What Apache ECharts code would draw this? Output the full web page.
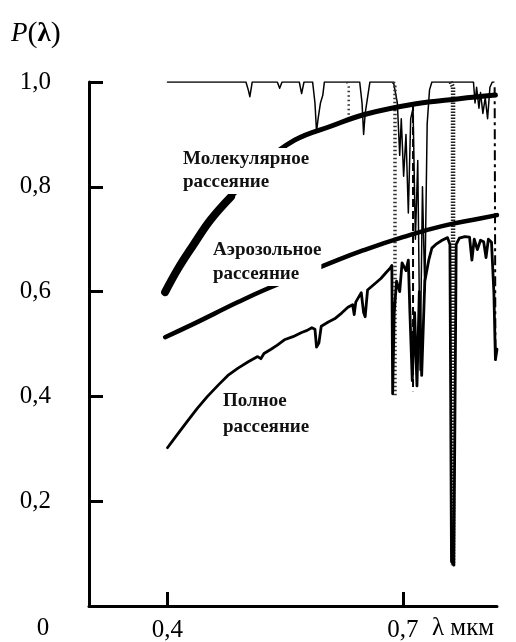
<!DOCTYPE html>
<html>
<head>
<meta charset="utf-8">
<script src="https://cdn.jsdelivr.net/npm/echarts@6/dist/echarts.min.js"></script>
<style>
  html, body { margin: 0; padding: 0; background: #fff; }
  #main { width: 516px; height: 642px; }
</style>
</head>
<body>
<div id="main"></div>
<script>
// молекулярное рассеяние (толстая гладкая кривая)
var molecular = [[0.397,0.599],[0.414,0.645],[0.433,0.689],[0.455,0.737],[0.481,0.781],[0.519,0.840],
  [0.562,0.889],[0.609,0.916],[0.651,0.938],[0.715,0.958],[0.772,0.968],[0.818,0.975]];
// аэрозольное рассеяние
var aerosol = [[0.397,0.513],[0.430,0.536],[0.460,0.558],[0.490,0.580],[0.522,0.602],[0.560,0.626],
  [0.600,0.650],[0.650,0.679],[0.700,0.704],[0.750,0.725],[0.800,0.740],[0.820,0.746]];
// полное рассеяние (с полосами поглощения)
var total = [[0.400,0.302],[0.412,0.326],[0.425,0.352],[0.438,0.377],[0.451,0.400],[0.465,0.422],
  [0.477,0.440],[0.490,0.454],[0.503,0.466],[0.515,0.476],[0.519,0.472],[0.523,0.482],[0.532,0.490],
  [0.540,0.498],[0.549,0.508],[0.560,0.514],[0.571,0.522],[0.578,0.526],[0.584,0.531],[0.588,0.528],
  [0.590,0.494],[0.593,0.502],[0.596,0.534],[0.605,0.542],[0.613,0.548],[0.622,0.559],[0.630,0.570],
  [0.636,0.575],[0.638,0.556],[0.640,0.580],[0.647,0.598],[0.650,0.560],[0.652,0.552],[0.655,0.603],
  [0.665,0.616],[0.672,0.625],[0.679,0.637],[0.684,0.645],[0.686,0.650],[0.687,0.405],[0.689,0.560],
  [0.692,0.620],[0.696,0.600],[0.699,0.655],[0.704,0.640],[0.707,0.660],[0.709,0.560],[0.712,0.430],
  [0.715,0.560],[0.718,0.420],[0.721,0.600],[0.724,0.440],[0.728,0.620],[0.733,0.660],[0.737,0.683],
  [0.742,0.690],[0.750,0.698],[0.757,0.703],[0.760,0.690],[0.762,0.085],[0.765,0.078],[0.768,0.690],
  [0.772,0.702],[0.779,0.705],[0.785,0.704],[0.788,0.660],[0.791,0.700],[0.795,0.680],[0.799,0.698],
  [0.803,0.695],[0.806,0.665],[0.809,0.700],[0.813,0.694],[0.816,0.600],[0.818,0.470],[0.820,0.490]];
// поглощение газами (тонкая линия у 1,0)
var gas = [[0.400,1.0],[0.500,1.0],[0.503,0.985],[0.505,0.972],[0.507,0.990],[0.508,1.0],[0.540,1.0],
  [0.543,0.988],[0.546,1.0],[0.568,1.0],[0.571,0.978],[0.574,1.0],[0.585,1.0],[0.588,0.960],
  [0.590,0.905],[0.592,0.930],[0.595,0.960],[0.598,0.975],[0.600,1.0],[0.645,1.0],[0.648,0.960],
  [0.650,0.900],[0.652,0.940],[0.655,0.970],[0.658,1.0],[0.688,1.0],[0.693,0.960],[0.696,0.860],
  [0.698,0.930],[0.701,0.820],[0.704,0.900],[0.707,0.750],[0.710,0.930],[0.713,0.950],[0.716,0.700],
  [0.719,0.850],[0.722,0.450],[0.725,0.800],[0.728,0.600],[0.731,0.920],[0.734,0.985],[0.737,1.0],
  [0.790,1.0],[0.792,0.960],[0.794,0.990],[0.797,0.950],[0.799,0.980],[0.802,0.940],[0.805,0.970],
  [0.808,0.930],[0.811,0.990],[0.814,1.0],[0.816,1.0]];
// пунктирные полосы
var dotBand1 = [[0.629,1.0],[0.631,0.99],[0.631,0.937]];
var dotBand2 = [[0.688,1.0],[0.690,0.99],[0.690,0.400]];
var dotBand3 = [[0.761,1.0],[0.764,0.99],[0.764,0.078]];
var dashBand1 = [[0.713,0.960],[0.713,0.410]];
var dashBand2 = [[0.817,0.990],[0.818,0.470]];

var xTicks = [0.4, 0.7];
var yMin = 0, yMax = 1.0, yStep = 0.2;

var chart = echarts.init(document.getElementById('main'));
var serif = '"Liberation Serif", "DejaVu Serif", serif';

function line(data, width, type, smooth, cap, color) {
  return {
    type: 'line', data: data, symbol: 'none', smooth: smooth || false,
    lineStyle: { color: color || '#000', width: width, type: type || 'solid', cap: cap || 'round', join: 'round' },
    animation: false, silent: true
  };
}

var option = {
  backgroundColor: '#fff',
  grid: { left: 89, right: 19, top: 82, bottom: 36, containLabel: false, outerBoundsMode: 'none' },
  xAxis: {
    type: 'value', min: 0.3, max: 0.82,
    splitLine: { show: false },
    axisLine: { lineStyle: { color: '#000', width: 3 } },
    axisTick: { inside: true, length: 14, customValues: xTicks, lineStyle: { color: '#000', width: 3 } },
    axisLabel: {
      customValues: xTicks, margin: 12, color: '#000', fontFamily: serif, fontSize: 25,
      formatter: function (v) { return v.toFixed(1).replace('.', ','); }
    }
  },
  yAxis: {
    type: 'value', min: yMin, max: yMax, interval: yStep,
    splitLine: { show: false },
    axisLine: { lineStyle: { color: '#000', width: 3 } },
    axisTick: { inside: true, length: 14, lineStyle: { color: '#000', width: 3 } },
    axisLabel: {
      showMinLabel: false, margin: 38, color: '#000', fontFamily: serif, fontSize: 25,
      formatter: function (v) { return v.toFixed(1).replace('.', ','); }
    }
  },
  graphic: [
    { type: 'text', left: 11, top: 19, style: {
        text: '{i|P}{n|(}{b|λ}{n|)}', fill: '#000',
        rich: {
          i: { fontFamily: serif, fontStyle: 'italic', fontSize: 27 },
          n: { fontFamily: serif, fontSize: 30 },
          b: { fontFamily: serif, fontWeight: 'bold', fontSize: 27 }
        } } },
    { type: 'text', x: 43, y: 628, style: { text: '0', fill: '#000', font: '25px ' + serif, align: 'center', verticalAlign: 'middle' } },
    { type: 'text', x: 432, y: 628, style: { text: 'λ мкм', fill: '#000', font: '25px ' + serif, verticalAlign: 'middle' } },
    { type: 'text', x: 183, y: 148, z: 100, style: { text: 'Молекулярное\nрассеяние', fill: '#111',
        font: 'bold 19px ' + serif, lineHeight: 23, backgroundColor: '#fff' } },
    { type: 'text', x: 213, y: 238, z: 100, style: { text: 'Аэрозольное\nрассеяние', fill: '#111',
        font: 'bold 19px ' + serif, lineHeight: 24, backgroundColor: '#fff' } },
    { type: 'text', x: 223, y: 388, z: 100, style: { text: 'Полное\nрассеяние', fill: '#111',
        font: 'bold 19px ' + serif, lineHeight: 26, backgroundColor: '#fff' } }
  ],
  series: [
    line(gas, 1.5),
    line(dotBand1, 2.5, [1.5, 3], false, 'butt', '#333'),
    line(dotBand2, 3.5, [1.5, 2.5], false, 'butt', '#333'),
    line(dotBand3, 4.5, [1.5, 1.5], false, 'butt', '#222'),
    line(dashBand1, 2, [8, 4], false, 'butt'),
    line(dashBand2, 2, [10, 4, 3, 4], false, 'butt'),
    line(total, 2.8),
    line(aerosol, 4.5, 'solid', true),
    line(molecular, 5, 'solid', 0.4),
    line(molecular.slice(0, 5), 8, 'solid', 0.4)
  ]
};
chart.setOption(option);
</script>
</body>
</html>
